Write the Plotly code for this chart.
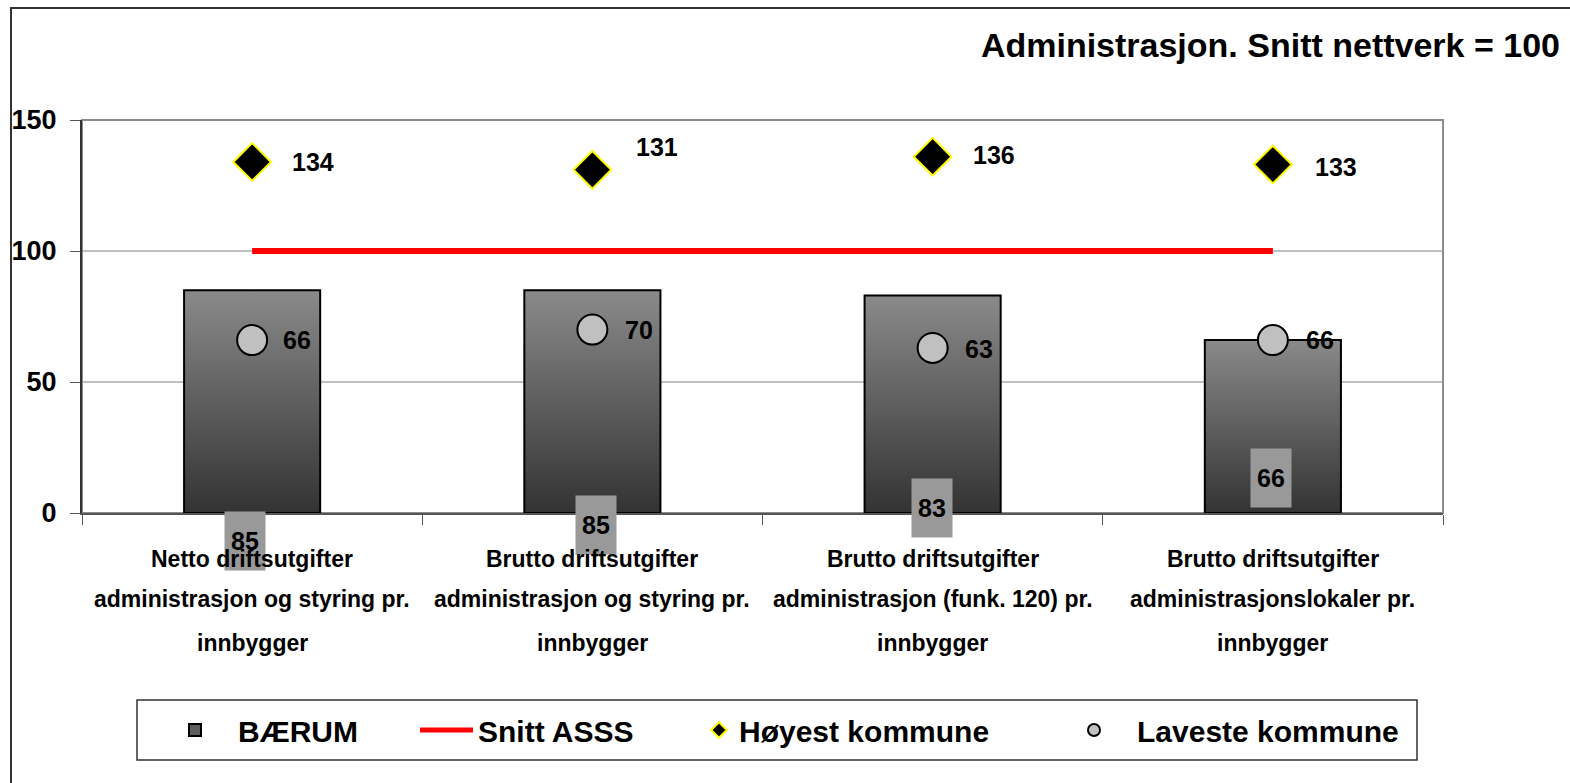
import base64
import plotly.graph_objects as go

# data
categories = [
    "Netto driftsutgifter<br>administrasjon og styring pr.<br>innbygger",
    "Brutto driftsutgifter<br>administrasjon og styring pr.<br>innbygger",
    "Brutto driftsutgifter<br>administrasjon (funk. 120) pr.<br>innbygger",
    "Brutto driftsutgifter<br>administrasjonslokaler pr.<br>innbygger",
]
baerum = [85, 85, 83, 66]
snitt_asss = [100, 100, 100, 100]
hoyest = [134, 131, 136, 133]
laveste = [66, 70, 63, 66]
y_ticks = [0, 50, 100, 150]

# layout constants (pixels)
W, H = 1570, 783
L, R, T, B = 82, 127, 120, 270
FONT = "Liberation Sans, Arial, sans-serif"
BAR_W = 0.4

# label offsets (px), just styling
bar_lbl_dx = [-7, 4, -1, -2]
bar_lbl_dy = [-28, -12, 5, 35]
hi_lbl_dx = [38, 42, 38, 40]
hi_lbl_dy = [0, 23, 2, -2]
lo_lbl_dx = [29, 31, 30, 31]
lo_lbl_dy = [0, 0, -1, 0]
cat_line_dy = [-46, -86, -130]
legend_px = [152, 415, 699, 1051]   # left edge of each legend entry
legend_iw = [76, 53, 30, 76]

pw, ph = W - L - R, H - T - B


def px_to_paper(xp, yp):
    return (xp - L) / pw, (H - B - yp) / ph


svg = ('<svg xmlns="http://www.w3.org/2000/svg" width="10" height="100" preserveAspectRatio="none">'
       '<defs><linearGradient id="g" x1="0" y1="0" x2="0" y2="1">'
       '<stop offset="0" stop-color="#8a8a8a"/><stop offset="1" stop-color="#333333"/>'
       '</linearGradient></defs><rect width="10" height="100" fill="url(#g)"/></svg>')
grad_src = "data:image/svg+xml;base64," + base64.b64encode(svg.encode()).decode()

fig = go.Figure()

fig.add_trace(go.Bar(x=[categories[0]], y=[None], name="BÆRUM", legend="legend",
                     marker=dict(color="#5f5f5f", line=dict(color="black", width=2))))
fig.add_trace(go.Bar(x=categories, y=baerum, width=BAR_W, showlegend=False,
                     marker=dict(color="rgba(0,0,0,0)", line=dict(color="black", width=2))))
fig.add_trace(go.Scatter(x=categories, y=snitt_asss, mode="lines", name="Snitt ASSS",
                         legend="legend2", line=dict(color="#ff0000", width=6)))
fig.add_trace(go.Scatter(x=categories, y=hoyest, mode="markers", name="Høyest kommune",
                         legend="legend3",
                         marker=dict(symbol="diamond", size=29, color="black",
                                     line=dict(color="#ffff00", width=2))))
fig.add_trace(go.Scatter(x=categories, y=laveste, mode="markers", name="Laveste kommune",
                         legend="legend4",
                         marker=dict(symbol="circle", size=30, color="#c0c0c0",
                                     line=dict(color="black", width=2))))

# gradient fills for bars
images = []
for i, v in enumerate(baerum):
    images.append(dict(source=grad_src, xref="x", yref="y", x=i - BAR_W / 2, y=v,
                       sizex=BAR_W, sizey=v, sizing="stretch", layer="below",
                       xanchor="left", yanchor="top"))

shapes = []
# gridlines (below the gradient images)
for t in y_ticks[1:-1]:
    shapes.append(dict(type="line", xref="paper", yref="y", x0=0, x1=1, y0=t, y1=t,
                       line=dict(color="#808080", width=1), layer="below"))
# plot area border
shapes.append(dict(type="rect", xref="paper", yref="paper", x0=0, x1=1, y0=0, y1=1,
                   line=dict(color="#8c8c8c", width=2), layer="below"))
# outer frame (left + top)
fx0, fy0 = px_to_paper(11, 8)
fx1, fy1 = px_to_paper(1600, 800)
shapes.append(dict(type="rect", xref="paper", yref="paper", x0=fx0, x1=fx1, y0=fy1, y1=fy0,
                   line=dict(color="#333333", width=2), layer="below"))
# legend box
lx0, ly0 = px_to_paper(137, 700)
lx1, ly1 = px_to_paper(1417, 760)
shapes.append(dict(type="rect", xref="paper", yref="paper", x0=lx0, x1=lx1, y0=ly1, y1=ly0,
                   line=dict(color="#333333", width=1.5), fillcolor="white"))

lbl_font = dict(family=FONT, size=25, color="black", weight="bold")
ann = []
for i, v in enumerate(baerum):
    ann.append(dict(x=i, y=0, xref="x", yref="y", text=str(v), showarrow=False,
                    xshift=bar_lbl_dx[i], yshift=bar_lbl_dy[i], bgcolor="#999999",
                    width=38, height=56, font=lbl_font))
for i, v in enumerate(hoyest):
    ann.append(dict(x=i, y=v, xref="x", yref="y", text=str(v), showarrow=False,
                    xanchor="left", xshift=hi_lbl_dx[i], yshift=hi_lbl_dy[i], font=lbl_font))
for i, v in enumerate(laveste):
    ann.append(dict(x=i, y=v, xref="x", yref="y", text=str(v), showarrow=False,
                    xanchor="left", xshift=lo_lbl_dx[i], yshift=lo_lbl_dy[i], font=lbl_font))
# category labels, one annotation per line for the wide line spacing
for i, c in enumerate(categories):
    for j, line in enumerate(c.split("<br>")):
        ann.append(dict(x=i, y=0, xref="x", yref="paper", text=line, showarrow=False,
                        yanchor="middle", yshift=cat_line_dy[j],
                        font=dict(family=FONT, size=23, color="black", weight="bold")))

leg_font = dict(family=FONT, size=30, color="black", weight="bold")
legends = {}
for k, xp in enumerate(legend_px):
    key = "legend" if k == 0 else "legend%d" % (k + 1)
    legends[key] = dict(x=px_to_paper(xp, 0)[0], xanchor="left", y=px_to_paper(0, 730)[1],
                        yanchor="middle", bgcolor="rgba(0,0,0,0)", borderwidth=0,
                        font=leg_font, itemsizing="constant", itemwidth=legend_iw[k])

fig.update_layout(
    width=W, height=H,
    margin=dict(l=L, r=R, t=T, b=B),
    paper_bgcolor="white", plot_bgcolor="white",
    barmode="overlay",
    title=dict(text="Administrasjon. Snitt nettverk = 100", xref="container", yref="container",
               x=1560 / W, xanchor="right", y=1 - 45 / H, yanchor="middle",
               font=dict(family=FONT, size=34, color="black", weight="bold")),
    xaxis=dict(showticklabels=False, tickson="boundaries", ticks="outside", ticklen=10,
               tickcolor="#555555", showline=True, linecolor="#555555", linewidth=2,
               showgrid=False, range=[-0.5, 3.5], automargin=False),
    yaxis=dict(range=[0, 150], tickvals=y_ticks, ticks="outside", ticklen=10,
               tickcolor="#555555", showline=True, linecolor="#333333", linewidth=2,
               showgrid=False, zeroline=False, ticklabelstandoff=8, automargin=False,
               tickfont=dict(family=FONT, size=27, color="black", weight="bold")),
    shapes=shapes, images=images, annotations=ann,
    showlegend=True,
    **legends,
)

fig.write_html("out.html", config={"displayModeBar": False},
               post_script="document.body.style.margin='0';")
